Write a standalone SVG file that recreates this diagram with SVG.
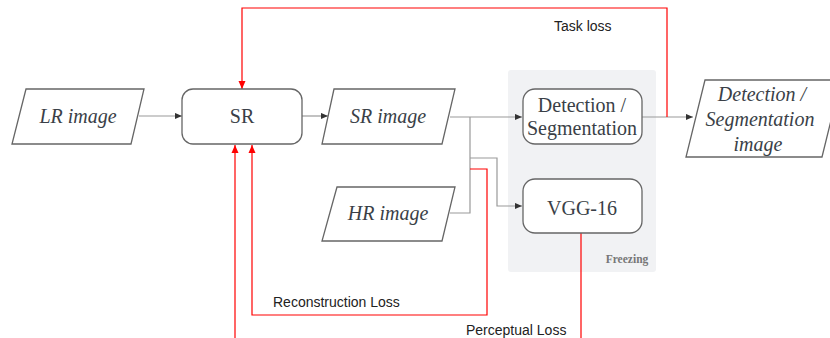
<svg xmlns="http://www.w3.org/2000/svg" width="830" height="338" viewBox="0 0 830 338">
<style>
.node{fill:#fff;stroke:#666;stroke-width:1.3}
.lbl{font-family:"Liberation Serif",serif;font-size:20px;fill:#3a3f47;text-anchor:middle}
.it{font-style:italic}
.sans{font-family:"Liberation Sans","Noto Sans",sans-serif;font-size:14px;fill:#222}
.gray{fill:none;stroke:#999;stroke-width:1.2}
.red{fill:none;stroke:#f00;stroke-width:1.2}
</style>
<defs>
<marker id="ag" viewBox="0 0 8 8" refX="8" refY="4" markerWidth="7" markerHeight="7" markerUnits="userSpaceOnUse" orient="auto"><path d="M0,0.5 L8,4 L0,7.5 Z" fill="#333"/></marker>
<marker id="ar" viewBox="0 0 8 8" refX="8" refY="4" markerWidth="8" markerHeight="8" markerUnits="userSpaceOnUse" orient="auto"><path d="M0,0.5 L8,4 L0,7.5 Z" fill="#f00"/></marker>
</defs>
<rect id="freezing" x="508" y="70" width="148" height="202" rx="3" fill="#f1f2f4"/>
<text x="627" y="263" font-family="Liberation Serif,serif" font-size="11.5" font-weight="bold" fill="#777" text-anchor="middle">Freezing</text>
<g id="connectors">
<path class="gray" d="M139,116 H182" marker-end="url(#ag)"/>
<path class="gray" d="M302,116 H328" marker-end="url(#ag)"/>
<path class="gray" d="M450,117 H522" marker-end="url(#ag)"/>
<path class="gray" d="M450,213 H470 V117"/>
<path class="gray" d="M470,158 H497 V206 H522" marker-end="url(#ag)"/>
<path class="gray" d="M642,117 H693" marker-end="url(#ag)"/>
<path class="red" d="M667,117 V8 H242 V89" marker-end="url(#ar)"/>
<path class="red" d="M470,169 H487 V315 H252 V145" marker-end="url(#ar)"/>
<path class="red" d="M581,233 V345 H235 V145" marker-end="url(#ar)"/>
<text class="sans" x="554" y="31">Task loss</text>
<text class="sans" x="273" y="307">Reconstruction Loss</text>
<text class="sans" x="466" y="335">Perceptual Loss</text>
</g>
<g id="lr">
<path class="node" d="M26,89 H144 L131,144 H12 Z"/>
<text class="lbl it" x="78" y="123">LR image</text>
</g>
<g id="sr">
<rect class="node" x="182" y="89" width="120" height="55" rx="11"/>
<text class="lbl" x="242" y="123">SR</text>
</g>
<g id="srimg">
<path class="node" d="M334,89 H455 L442,144 H322 Z"/>
<text class="lbl it" x="388" y="123">SR image</text>
</g>
<g id="hrimg">
<path class="node" d="M337,187 H455 L442,241 H322 Z"/>
<text class="lbl it" x="388" y="220">HR image</text>
</g>
<g id="det">
<rect class="node" x="523" y="89" width="119" height="55" rx="12"/>
<text class="lbl" x="582" y="112">Detection /</text>
<text class="lbl" x="582" y="135">Segmentation</text>
</g>
<g id="vgg">
<rect class="node" x="523" y="179" width="119" height="54" rx="12"/>
<text class="lbl" x="582" y="215">VGG-16</text>
</g>
<g id="out">
<path class="node" d="M705,80 H841 L822,157 H686 Z"/>
<text class="lbl it" x="762" y="101">Detection /</text>
<text class="lbl it" x="760" y="126">Segmentation</text>
<text class="lbl it" x="758" y="151">image</text>
</g>
</svg>
